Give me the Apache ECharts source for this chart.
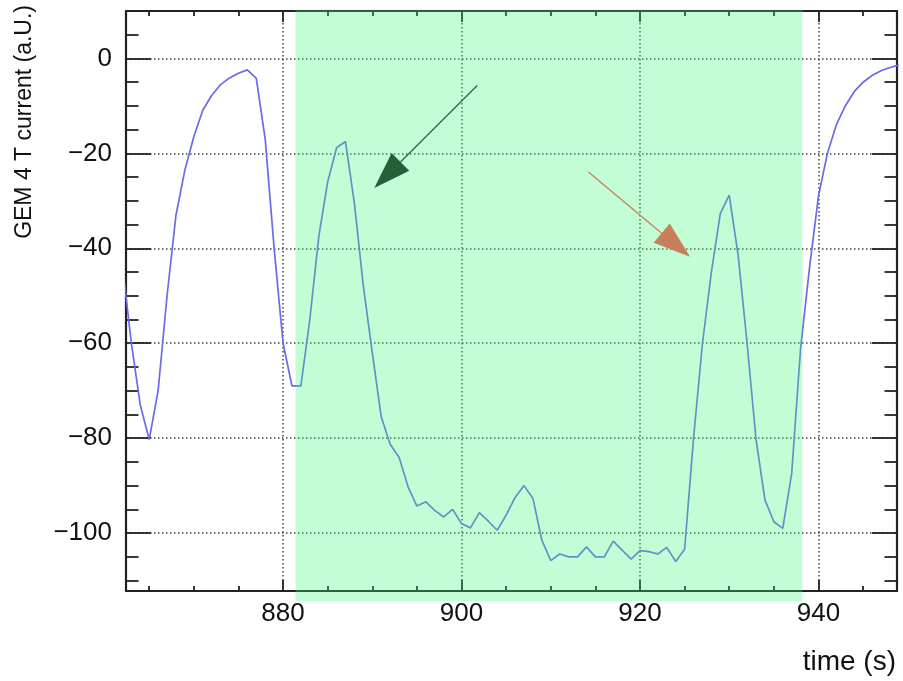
<!DOCTYPE html>
<html>
<head>
<meta charset="utf-8">
<script src="https://cdn.jsdelivr.net/npm/echarts@6/dist/echarts.min.js"></script>
<style>
html, body { margin: 0; padding: 0; background: #fff; }
#main { width: 903px; height: 681px; }
</style>
</head>
<body>
<div id="main"></div>
<script>
// time axis (s), one sample per second
var times = [862, 863, 864, 865, 866, 867, 868, 869, 870, 871, 872, 873, 874, 875, 876, 877, 878, 879,
    880, 881, 882, 883, 884, 885, 886, 887, 888, 889, 890, 891, 892, 893, 894, 895, 896, 897, 898, 899,
    900, 901, 902, 903, 904, 905, 906, 907, 908, 909, 910, 911, 912, 913, 914, 915, 916, 917, 918, 919,
    920, 921, 922, 923, 924, 925, 926, 927, 928, 929, 930, 931, 932, 933, 934, 935, 936, 937, 938, 939,
    940, 941, 942, 943, 944, 945, 946, 947, 948, 949];
// GEM 4 T current (a.U.)
var current = [-43.5, -60, -73, -80.3, -70, -50, -33, -23.5, -16.5, -10.9, -7.8, -5.5, -4.1, -3.1, -2.4, -4.2, -17, -40,
    -60, -69, -69, -55, -37.6, -26, -18.8, -17.5, -30.6, -48, -62, -75.5, -81.3, -84, -90.2, -94.3, -93.4, -95.2, -96.6, -95.0,
    -98.0, -98.9, -95.7, -97.5, -99.4, -96.2, -92.5, -90.0, -92.7, -101.5, -105.8, -104.4, -105.0, -105.0, -102.9, -105.0, -105.0, -101.7, -103.6, -105.5,
    -103.7, -103.9, -104.4, -103.0, -106.0, -103.4, -80, -60, -45, -32.7, -28.8, -41.5, -60, -80.2, -93, -97.6, -99, -87.4, -61, -44,
    -29, -20, -14, -10, -7, -5, -3.6, -2.6, -1.9, -1.4];

// axis ranges
var xRange = [862.4, 948.8];
var yRange = [-112.2, 10];

// highlighted time window (green band)
var bandX = [881.4, 938.2];
var bandY = [10.3, -114.3];

// arrows: [from, to] in data coordinates
var greenArrow = [[901.76, -5.7], [890.22, -27.3]];
var orangeArrow = [[914.22, -23.9], [925.61, -41.8]];

var FONT = '"Liberation Sans", Arial, Helvetica, sans-serif';

var seriesData = [];
for (var i = 0; i < times.length; i++) {
    seriesData.push([times[i], current[i]]);
}

var myChart = echarts.init(document.getElementById('main'));

var tickStyle = { color: '#222', width: 1.8 };
var gridStyle = { color: '#444', width: 1.5, type: [1.5, 2.5] };

function minusFmt(v) {
    return String(v).replace('-', '\u2212');
}

var option = {
    animation: false,
    backgroundColor: '#fff',
    grid: { left: 126, right: 6, top: 11, bottom: 90, containLabel: false },
    xAxis: [{
        type: 'value',
        position: 'bottom',
        min: xRange[0],
        max: xRange[1],
        splitNumber: 4,
        axisLine: { show: true, onZero: false, lineStyle: { color: '#222', width: 2.2 } },
        axisTick: { show: true, inside: true, length: 11, lineStyle: tickStyle },
        minorTick: { show: true, splitNumber: 4, length: 5, lineStyle: tickStyle },
        axisLabel: { showMinLabel: false, showMaxLabel: false, fontSize: 26, fontFamily: FONT, color: '#111', margin: 10 },
        splitLine: { show: true, lineStyle: gridStyle }
    }, {
        type: 'value',
        position: 'top',
        min: xRange[0],
        max: xRange[1],
        splitNumber: 4,
        axisLine: { show: true, onZero: false, lineStyle: { color: '#222', width: 2.2 } },
        axisTick: { show: true, inside: true, length: 11, lineStyle: tickStyle },
        minorTick: { show: true, splitNumber: 4, length: 5, lineStyle: tickStyle },
        axisLabel: { show: false },
        splitLine: { show: false }
    }],
    yAxis: [{
        type: 'value',
        position: 'left',
        min: yRange[0],
        max: yRange[1],
        splitNumber: 6,
        axisLine: { show: true, onZero: false, lineStyle: { color: '#222', width: 2.2 } },
        axisTick: { show: true, inside: true, length: 25, lineStyle: tickStyle },
        minorTick: { show: true, splitNumber: 4, length: 12.5, lineStyle: tickStyle },
        axisLabel: { showMinLabel: false, showMaxLabel: false, fontSize: 26, fontFamily: FONT, color: '#111', margin: 14, formatter: minusFmt },
        splitLine: { show: true, lineStyle: gridStyle }
    }, {
        type: 'value',
        position: 'right',
        min: yRange[0],
        max: yRange[1],
        splitNumber: 6,
        axisLine: { show: true, onZero: false, lineStyle: { color: '#222', width: 2.2 } },
        axisTick: { show: true, inside: true, length: 25, lineStyle: tickStyle },
        minorTick: { show: true, splitNumber: 4, length: 12.5, lineStyle: tickStyle },
        axisLabel: { show: false },
        splitLine: { show: false }
    }],
    series: [{
        type: 'line',
        xAxisIndex: 0,
        yAxisIndex: 0,
        data: seriesData,
        showSymbol: false,
        clip: true,
        lineStyle: { color: '#6a6aea', width: 1.7 }
    }]
};
myChart.setOption(option);

// overlays (band + arrows) placed through the chart's own scales
function px(p) {
    return myChart.convertToPixel({ seriesIndex: 0 }, p);
}

function arrowGraphic(def, color, lineColor, z) {
    var a = px(def[0]);
    var b = px(def[1]);
    var dx = b[0] - a[0], dy = b[1] - a[1];
    var len = Math.sqrt(dx * dx + dy * dy);
    var ux = dx / len, uy = dy / len;
    var headLen = 37, headW = 12.5;
    var bx = b[0] - ux * headLen, by = b[1] - uy * headLen;
    return [{
        type: 'line',
        z: z,
        shape: { x1: a[0], y1: a[1], x2: bx, y2: by },
        style: { stroke: lineColor, lineWidth: 1.3 }
    }, {
        type: 'polygon',
        z: z,
        shape: { points: [[b[0], b[1]], [bx - uy * headW, by + ux * headW], [bx + uy * headW, by - ux * headW]] },
        style: { fill: color }
    }];
}

var b0 = px([bandX[0], bandY[0]]);
var b1 = px([bandX[1], bandY[1]]);

var graphics = [{
    type: 'rect',
    z: 50,
    shape: { x: b0[0], y: b0[1], width: b1[0] - b0[0], height: b1[1] - b0[1] },
    style: { fill: 'rgba(55,248,115,0.3)' }
}];
graphics = graphics.concat(arrowGraphic(greenArrow, '#245f37', '#2e6a42', 60));
graphics = graphics.concat(arrowGraphic(orangeArrow, '#c77f59', '#c8805a', 60));

graphics.push({
    type: 'text',
    z: 60,
    x: 25,
    y: 5,
    rotation: Math.PI / 2,
    style: { text: 'GEM 4 T current (a.U.)', font: '23px ' + FONT, fill: '#111', textAlign: 'right', textVerticalAlign: 'middle' }
});
graphics.push({
    type: 'text',
    z: 60,
    x: 896,
    y: 662,
    style: { text: 'time (s)', font: '28px ' + FONT, fill: '#111', textAlign: 'right', textVerticalAlign: 'middle' }
});

myChart.setOption({ graphic: graphics });
</script>
</body>
</html>
